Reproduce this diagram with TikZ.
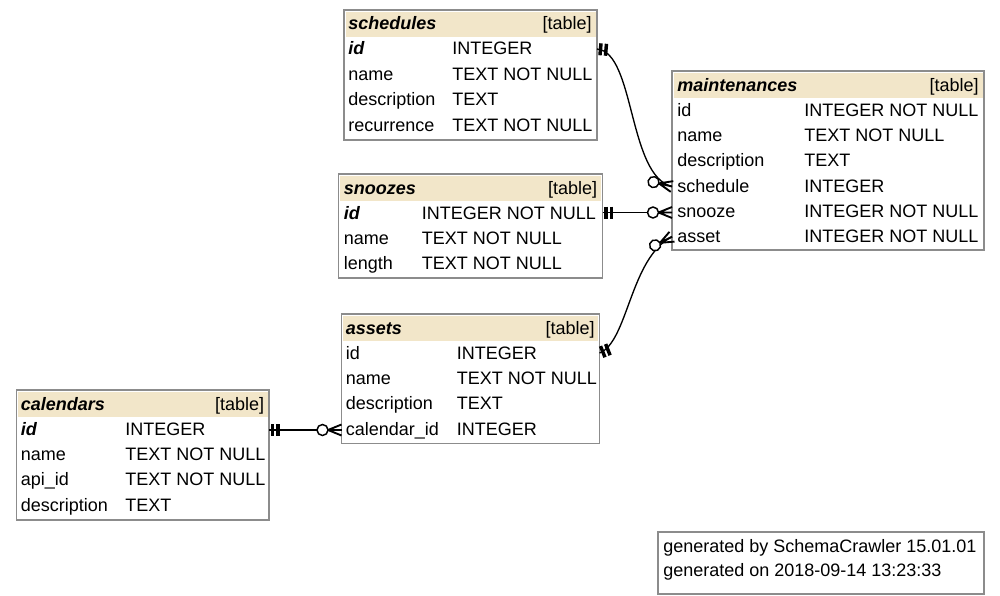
\documentclass[tikz,border=0pt]{standalone}
\usepackage{fontspec}
\setmainfont{Liberation Sans}
\definecolor{hdr}{HTML}{F2E6C9}
\definecolor{frm}{HTML}{8C8C8C}
\tikzset{
  txt/.style={inner sep=0pt, font=\fontsize{13.5}{16}\selectfont},
  lft/.style={txt, anchor=base west},
  rgt/.style={txt, anchor=base east},
  frame/.style={draw=frm, line width=0.9pt},
  conn/.style={line width=1pt, black},
  pics/teemark/.style={code={
    \draw[line width=2.6pt] (3.5,-6)--(3.5,6) (9,-6)--(9,6);}},
  pics/crowmark/.style={code={
    \draw[line width=1.4pt] (-13.5,0)--(0,5.5) (-13.5,0)--(0,-5.5) (-13.5,0)--(0,0);
    \draw[line width=1.1pt, fill=white] (-19,0) circle[radius=5.5];}}
}
\newcommand\tablebox[4]{%
  \fill[hdr] (#1+1.5,#2+1.5) rectangle (#3-1.5,#2+27);
  \draw[frame] (#1,#2) rectangle (#3,#4);}
\begin{document}
\begin{tikzpicture}[x=0.75pt,y=-0.75pt]
\useasboundingbox (0,0) rectangle (1000,596);

% ---------- schedules
\tablebox{344}{10}{597}{140}
\node[lft] (sch-h) at (348,30) {\bfseries\itshape schedules};
\node[rgt] (sch-t) at (592,30) {[table]};
\node[lft] (sch-r1a) at (348,55) {\bfseries\itshape id};
\node[lft] (sch-r1b) at (452,55) {INTEGER};
\node[lft] (sch-r2a) at (348,80.3) {name};
\node[lft] (sch-r2b) at (452,80.3) {TEXT NOT NULL};
\node[lft] (sch-r3a) at (348,105.7) {description};
\node[lft] (sch-r3b) at (452,105.7) {TEXT};
\node[lft] (sch-r4a) at (348,131) {recurrence};
\node[lft] (sch-r4b) at (452,131) {TEXT NOT NULL};

% ---------- snoozes
\tablebox{338.5}{174}{602.5}{278}
\node[lft] (snz-h) at (343.5,194) {\bfseries\itshape snoozes};
\node[rgt] (snz-t) at (597.5,194) {[table]};
\node[lft] (snz-r1a) at (343.5,219) {\bfseries\itshape id};
\node[lft] (snz-r1b) at (421.5,219) {INTEGER NOT NULL};
\node[lft] (snz-r2a) at (343.5,244.3) {name};
\node[lft] (snz-r2b) at (421.5,244.3) {TEXT NOT NULL};
\node[lft] (snz-r3a) at (343.5,269.7) {length};
\node[lft] (snz-r3b) at (421.5,269.7) {TEXT NOT NULL};

% ---------- maintenances
\tablebox{672}{71}{984}{250}
\node[lft] (mnt-h) at (677,91) {\bfseries\itshape maintenances};
\node[rgt] (mnt-t) at (979,91) {[table]};
\node[lft] (mnt-r1a) at (677,116) {id};
\node[lft] (mnt-r1b) at (804,116) {INTEGER NOT NULL};
\node[lft] (mnt-r2a) at (677,141.3) {name};
\node[lft] (mnt-r2b) at (804,141.3) {TEXT NOT NULL};
\node[lft] (mnt-r3a) at (677,166.7) {description};
\node[lft] (mnt-r3b) at (804,166.7) {TEXT};
\node[lft] (mnt-r4a) at (677,192) {schedule};
\node[lft] (mnt-r4b) at (804,192) {INTEGER};
\node[lft] (mnt-r5a) at (677,217.3) {snooze};
\node[lft] (mnt-r5b) at (804,217.3) {INTEGER NOT NULL};
\node[lft] (mnt-r6a) at (677,242.7) {asset};
\node[lft] (mnt-r6b) at (804,242.7) {INTEGER NOT NULL};

% ---------- assets
\tablebox{341.5}{314}{599.5}{443.5}
\node[lft] (ast-h) at (345.5,334) {\bfseries\itshape assets};
\node[rgt] (ast-t) at (595,334) {[table]};
\node[lft] (ast-r1a) at (345.5,359) {id};
\node[lft] (ast-r1b) at (456.5,359) {INTEGER};
\node[lft] (ast-r2a) at (345.5,384.3) {name};
\node[lft] (ast-r2b) at (456.5,384.3) {TEXT NOT NULL};
\node[lft] (ast-r3a) at (345.5,409.7) {description};
\node[lft] (ast-r3b) at (456.5,409.7) {TEXT};
\node[lft] (ast-r4a) at (345.5,435) {calendar\_id};
\node[lft] (ast-r4b) at (456.5,435) {INTEGER};

% ---------- calendars
\tablebox{16.5}{390}{269}{520}
\node[lft] (cal-h) at (20.5,410) {\bfseries\itshape calendars};
\node[rgt] (cal-t) at (264.5,410) {[table]};
\node[lft] (cal-r1a) at (20.5,435) {\bfseries\itshape id};
\node[lft] (cal-r1b) at (125,435) {INTEGER};
\node[lft] (cal-r2a) at (20.5,460.3) {name};
\node[lft] (cal-r2b) at (125,460.3) {TEXT NOT NULL};
\node[lft] (cal-r3a) at (20.5,485.7) {api\_id};
\node[lft] (cal-r3b) at (125,485.7) {TEXT NOT NULL};
\node[lft] (cal-r4a) at (20.5,511) {description};
\node[lft] (cal-r4b) at (125,511) {TEXT};

% ---------- legend
\draw[frame] (658,532) rectangle (984,594);
\node[lft] (leg1) at (663,552) {generated by SchemaCrawler 15.01.01};
\node[lft] (leg2) at (663,576) {generated on 2018-09-14 13:23:33};

% ---------- connector anchors
\coordinate (sch-id) at (597,49);
\coordinate (mnt-schedule) at (672,186.5);
\coordinate (snz-id) at (602.5,212.5);
\coordinate (mnt-snooze) at (672,212.5);
\coordinate (ast-id) at (599.5,353);
\coordinate (mnt-asset) at (672,236.7);
\coordinate (cal-id) at (269,430);
\coordinate (ast-cal) at (341.5,430);

% ---------- connectors
\draw[conn] (sch-id) .. controls (635,52) and (628,176) .. (mnt-schedule);
\draw[conn] (snz-id) -- (mnt-snooze);
\draw[conn] (ast-id) .. controls (628,342) and (630,258) .. (mnt-asset);
\draw[conn] (cal-id) -- (ast-cal);

% ---------- end marks
\pic[rotate=-5] at (sch-id) {teemark};
\pic[rotate=-13.4] at (mnt-schedule) {crowmark};
\pic at (snz-id) {teemark};
\pic at (mnt-snooze) {crowmark};
\pic[rotate=21.8] at (ast-id) {teemark};
\pic[rotate=27] at (mnt-asset) {crowmark};
\pic at (cal-id) {teemark};
\pic at (ast-cal) {crowmark};
\end{tikzpicture}
\end{document}
